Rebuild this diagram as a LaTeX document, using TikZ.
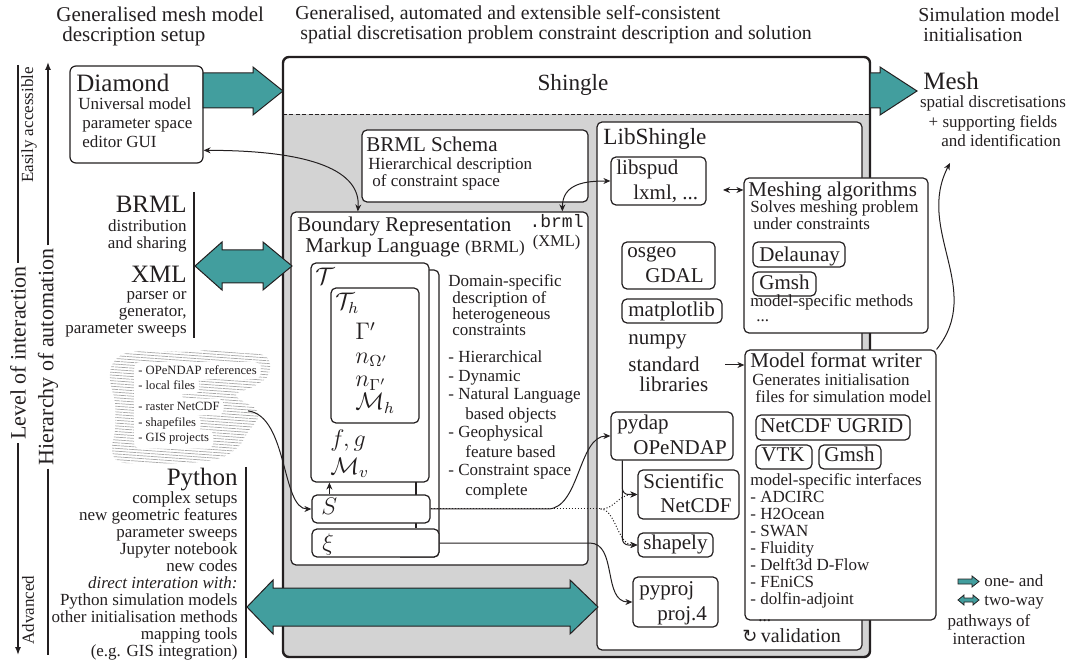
\documentclass[tikz,border=0pt]{standalone}
\usepackage{fontspec}
\setmainfont{Liberation Serif}
\setmonofont{Liberation Mono}
\newfontfamily\dejavu{DejaVu Sans}
\usepackage{amsmath}
\usetikzlibrary{arrows.meta,calc,fit,patterns.meta}

\definecolor{shgray}{RGB}{211,211,211}
\definecolor{pathteal}{RGB}{66,158,158}
\definecolor{ink}{RGB}{35,31,32}
\newcommand\fs[2]{\fontsize{#1}{#2}\selectfont}

% base anchors of several-line texts sit on the last line
\tikzset{
  box/.style={draw=ink, line width=0.6pt, rounded corners=2.5pt, fill=white, inner sep=0pt},
  txt/.style={inner sep=0pt, anchor=base west, align=left, text=ink},
  rtxt/.style={inner sep=0pt, anchor=base east, align=right, text=ink},
  link/.style={draw=ink, line width=0.5pt, >={Stealth[length=3.5pt,width=3pt]}},
  pathway/.style={draw=ink, line width=0.5pt, fill=pathteal, line join=miter},
  rule/.style={draw=ink, line width=0.7pt},
}

\begin{document}
\begin{tikzpicture}[x=0.5pt,y=-0.5pt]
\useasboundingbox (0,0) rectangle (1071,662);

% headings
\node[txt,font=\fs{10.5}{10}] (headL) at (56,42) {Generalised mesh model\\\hspace{3pt}description setup};
\node[txt,font=\fs{9.9}{10}] (headM) at (295,40) {Generalised, automated and extensible self-consistent\\\hspace{2.5pt}spatial discretisation problem constraint description and solution};
\node[txt,font=\fs{9.9}{10}] (headR) at (918,42) {Simulation model\\\hspace{2.5pt}initialisation};

% Shingle frame
\begin{scope}
  \clip[rounded corners=3pt] (283,57) rectangle (870,657);
  \fill[shgray] (283,114) rectangle (870,657);
\end{scope}
\draw[ink, line width=0.4pt, dash pattern=on 2pt off 1.2pt] (283,114) -- (870,114);
\node[draw=ink, line width=1.2pt, rounded corners=3pt, inner sep=0pt, fit={(283,57) (870,657)}] (shingle) {};
\node[inner sep=0pt, anchor=base, text=ink, font=\fs{11.6}{12}] (shingleT) at (573,91) {Shingle};

% LibShingle
\node[box, fit={(597,122) (862,650)}] (libshingle) {};
\node[txt,font=\fs{11.6}{12}] (libT) at (603,145) {LibShingle};
\node[box, fit={(611,157) (706,205)}] (libspud) {};
\node[txt,font=\fs{10.5}{12.5}] (libspudT) at (616,200) {libspud\\\hspace{8.5pt}lxml, ...};
\node[box, fit={(622,242) (715,289)}] (osgeo) {};
\node[txt,font=\fs{10.5}{12.5}] (osgeoT) at (627,283) {osgeo\\\hspace{9pt}GDAL};
\node[box, fit={(622,299) (722,323)}] (mpl) {};
\node[txt,font=\fs{10.5}{12.5}] (mplT) at (628,317) {matplotlib};
\node[txt,font=\fs{10.5}{12.5}] (numpy) at (628,345) {numpy};
\node[txt,font=\fs{10.5}{10}] (stdlib) at (628,392) {standard\\\hspace{5.5pt}libraries};
\node[box, fit={(611,412) (733,460)}] (pydap) {};
\node[txt,font=\fs{10.5}{12.5}] (pydapT) at (617,455) {pydap\\\hspace{8pt}OPeNDAP};
\node[box, fit={(638,470) (739,519)}] (scinet) {};
\node[txt,font=\fs{10.5}{12.5}] (scinetT) at (643,513) {Scientific\\\hspace{8.5pt}NetCDF};
\node[box, fit={(638,533) (713,557)}] (shapely) {};
\node[txt,font=\fs{10.5}{12.5}] (shapelyT) at (643,549) {shapely};
\node[box, fit={(633,577) (718,627)}] (pyproj) {};
\node[txt,font=\fs{10.5}{12.5}] (pyprojT) at (639,620) {pyproj\\\hspace{9pt}proj.4};
\node[txt,font=\fs{10}{12}] (valid) at (742,642) {{\dejavu\fs{9}{9}↻}\,validation};

% BRML schema and document
\node[box, fit={(362,130) (588,202)}] (schema) {};
\node[txt,font=\fs{10.5}{12}] (schemaT) at (366,152) {BRML Schema};
\node[txt,font=\fs{8.5}{8.5}] (schemaS) at (368,187) {Hierarchical description\\\hspace{2pt}of constraint space};
\node[box, fit={(291,212) (588,565)}] (brml) {};
\node[txt,font=\fs{10.5}{10.5}] (brmlT) at (297,253) {Boundary Representation\\\hspace{4pt}Markup Language {\fs{8.5}{10.5}(BRML)}};
\node[inner sep=0pt, anchor=base east, align=center, text=ink, font=\fs{9}{9.5}] (brmlExt) at (584,247) {\texttt{.brml}\\{\fs{8.2}{9.5}(XML)}};

% stacked constraint tree
\draw[ink, line width=0.6pt, rounded corners=2.5pt] (400,270) -- (439,270) -- (439,557) -- (400,557);
\draw[ink, line width=0.6pt] (416,470) -- (416,528);
\node[box, fit={(311,263) (429,482)}] (tbox) {};
\node[txt,font=\fs{11.5}{12}] (tT) at (315,285) {$\mathcal{T}$};
\node[box, fit={(331,288) (419,423)}] (thbox) {};
\node[txt,font=\fs{11.5}{12}] (thT) at (335,310) {$\mathcal{T}_h$};
\node[txt,font=\fs{11.5}{11.7}] (thVars) at (355,410) {$\Gamma'$\\$n_{\Omega'}$\\$n_{\Gamma'}$\\$\mathcal{M}_h$};
\node[txt,font=\fs{11.5}{13.5}] (tVars) at (330,474) {$f,g$\\$\mathcal{M}_v$};
\node[box, fit={(312,495) (430,523)}] (sbox) {};
\node[txt,font=\fs{11.5}{12}] (sT) at (321,515) {$S$};
\node[box, fit={(312,529) (439,557)}] (xibox) {};
\node[txt,font=\fs{11.5}{12}] (xiT) at (322,550) {$\xi$};

\node[txt,font=\fs{8.5}{8.2}] (domain) at (448,336) {Domain-specific\\\hspace{2pt}description of\\\hspace{2pt}heterogeneous\\\hspace{2pt}constraints};
\node[txt,font=\fs{8.5}{9.5}] (features) at (448,495) {- Hierarchical\\- Dynamic\\- Natural Language\\\hspace{8.5pt}based objects\\- Geophysical\\\hspace{8.5pt}feature based\\- Constraint space\\\hspace{8.5pt}complete};

% meshing and writer
\node[box, fit={(744,178) (928,333)}] (meshalg) {};
\node[txt,font=\fs{10.5}{12}] (meshalgT) at (748,197) {Meshing algorithms};
\node[txt,font=\fs{8.5}{8.5}] (meshalgS) at (750,230) {Solves meshing problem\\\hspace{1.5pt}under constraints};
\node[box, fit={(753,242) (845,267)}] (delaunay) {};
\node[txt,font=\fs{10.5}{12}] (delaunayT) at (759,262) {Delaunay};
\node[box, fit={(753,272) (816,296)}] (gmshA) {};
\node[txt,font=\fs{10.5}{12}] (gmshAT) at (759,290) {Gmsh};
\node[txt,font=\fs{8.5}{7.5}] (meshalgM) at (750,322) {model-specific methods\\\hspace{3pt}...};

\node[box, fit={(745,350) (936,620)}] (writer) {};
\node[txt,font=\fs{10.5}{12}] (writerT) at (750,368) {Model format writer};
\node[txt,font=\fs{8.5}{8.5}] (writerS) at (752,403) {Generates initialisation\\\hspace{1.5pt}files for simulation model};
\node[box, fit={(756,415) (910,440)}] (ugrid) {};
\node[txt,font=\fs{10.5}{12}] (ugridT) at (760,433) {NetCDF UGRID};
\node[box, fit={(756,445) (812,469)}] (vtk) {};
\node[txt,font=\fs{10.5}{12}] (vtkT) at (761,462) {VTK};
\node[box, fit={(819,445) (881,469)}] (gmshB) {};
\node[txt,font=\fs{10.5}{12}] (gmshBT) at (824,462) {Gmsh};
\node[txt,font=\fs{8.5}{8.5}] (writerL) at (750,621) {model-specific interfaces\\- ADCIRC\\- H2Ocean\\- SWAN\\- Fluidity\\- Delft3d D-Flow\\- FEniCS\\- dolfin-adjoint\\\hspace{4pt}...};

% Diamond
\node[box, rounded corners=3pt, fit={(70,66) (203,163)}] (dia) {};
\node[txt,font=\fs{12.5}{13}] (diaT) at (76,92) {Diamond};
\node[txt,font=\fs{8.5}{9.5}] (diaS) at (78,148) {Universal model\\\hspace{2pt}parameter space\\\hspace{2pt}editor GUI};

% Mesh output
\node[txt,font=\fs{12.5}{13}] (meshOut) at (923,90) {Mesh};
\node[inner sep=0pt, anchor=base, align=center, text=ink, font=\fs{8.5}{9.8}] (meshOutS) at (993,147) {spatial discretisations\\+ supporting fields\\\hspace{8pt}and identification};

% BRML / XML access
\node[rtxt,font=\fs{12.5}{13}] (brmlA) at (187,213) {BRML};
\node[rtxt,font=\fs{8.5}{8.7}] (brmlAS) at (187,249) {distribution\\and sharing};
\node[rtxt,font=\fs{12.5}{13}] (xmlA) at (187,283) {XML};
\node[rtxt,font=\fs{8.5}{8.5}] (xmlAS) at (187,334) {parser or\\generator,\\parameter sweeps};
\draw[rule] (194,192) -- (194,338);

% Python access
\node[rtxt,font=\fs{12.5}{13}] (pyA) at (238,486) {Python};
\node[rtxt,font=\fs{8.5}{8.5}] (pyAS) at (238,656) {complex setups\\new geometric features\\parameter sweeps\\Jupyter notebook\\new codes\\\textit{direct interation with:}\hspace{15.5pt}\\Python simulation models\\other initialisation methods\\mapping tools\\(e.g. GIS integration)};
\draw[rule] (246,467) -- (246,658);

% data sources cloud
\fill[pattern={Lines[angle=-4,distance=1.4pt,line width=0.35pt]}, pattern color=gray!70]
  plot[smooth cycle, tension=0.6] coordinates {(113,363) (127,353) (157,351) (187,352) (213,350) (240,353) (263,355) (270,364) (267,377) (253,387) (236,394) (244,402) (255,408) (258,418) (248,432) (238,447) (220,458) (187,463) (150,463) (120,462) (112,450) (115,430) (115,403) (110,380)};
\fill[white, rounded corners=4pt] (134,363) rectangle (182,447);
\foreach \i/\y/\lbl in {1/375/OPeNDAP references, 2/390/local files, 3/411/raster NetCDF, 4/427/shapefiles, 5/442/GIS projects}
  \node[txt, font=\fs{6.3}{7.5}, fill=white, rounded corners=3pt, inner xsep=2pt, inner ysep=2pt] (cl\i) at (134,\y) {- \lbl};

% axes
\node[rotate=90, inner sep=1.5pt, text=ink, font=\fs{11}{12}] (levint) at (18,353) {Level of interaction};
\coordinate (levtop) at (18,65);
\coordinate (levbot) at (18,655);
\draw[rule] (levtop) -- (levint.east);
\draw[rule,-{Latex[length=4pt,width=3pt]}] (levint.west) -- (levbot);
\node[rotate=90, inner sep=1.5pt, text=ink, font=\fs{11}{12}] (hier) at (48,357) {Hierarchy of automation};
\coordinate (hiertop) at (48,62);
\coordinate (hierbot) at (48,655);
\draw[rule,-{Latex[length=4pt,width=3pt]}] (hier.east) -- (hiertop);
\draw[rule] (hier.west) -- (hierbot);
\node[rotate=90, inner sep=0pt, text=ink, font=\fs{8.5}{9}] (easy) at (29,125) {Easily accessible};
\node[rotate=90, inner sep=0pt, text=ink, font=\fs{8.5}{9}] (adv) at (28,610) {Advanced};

% pathways
\draw[pathway] (203,73) -- (253,73) -- (253,67) -- (283,91) -- (253,115) -- (253,108) -- (203,108) -- cycle;
\draw[pathway] (870,73) -- (880,73) -- (880,67) -- (917,91) -- (880,115) -- (880,108) -- (870,108) -- cycle;
\draw[pathway] (195,266) -- (222,242) -- (222,250) -- (263,250) -- (263,242) -- (292,266) -- (263,290) -- (263,283) -- (222,283) -- (222,290) -- cycle;
\draw[pathway] (247,607) -- (273,580) -- (273,588) -- (570,588) -- (570,580) -- (598,607) -- (570,634) -- (570,626) -- (273,626) -- (273,634) -- cycle;

% connectors
\draw[link,<->] ($(dia.north east)!0.865!(dia.south east)$) .. controls +(110,0) and +(3,-40) .. ($(brml.north west)!0.226!(brml.north east)$);
\draw[link,<->] ($(brml.north west)!0.912!(brml.north east)$) .. controls +(0,-28) and +(-25,0) .. (libspud.west);
\coordinate (libout) at (723,190);
\draw[link,<->] (libout) -- (libout -| meshalg.west);
\coordinate (stdout) at (725,365);
\draw[link,->] (stdout) -- (stdout -| writer.west);
\draw[link,->] ([xshift=12pt,yshift=-2pt]cl3.east) .. controls +(40,5) and +(-30,0) .. (sbox.west);
\coordinate (sup) at ($(sbox.north west)+(18,0)$);
\draw[link,->] (sup) -- (sup |- tbox.south);
\draw[link,densely dotted] (sbox.east) -- ++(170,0) coordinate (fork);
\draw[link,densely dotted,->] (fork) .. controls +(15,0) and +(-20,0) .. (scinet.west);
\draw[link,densely dotted,->] (fork) .. controls +(15,0) and +(-20,0) .. (shapely.west);
\draw[link,->] (sbox.east) -- ++(117,0) .. controls +(32,0) and +(-32,0) .. (pydap.west);
\coordinate (pdown) at ($(pydap.south west)+(12,0)$);
\draw[link,->,rounded corners=3pt] (pdown) |- (scinet.west);
\draw[link,->,rounded corners=3pt] (pdown) |- (shapely.west);
\draw[link,->] (xibox.east) -- ++(150,0) .. controls +(28,0) and +(-30,0) .. (pyproj.west);
\coordinate (meshin) at (950,163);
\draw[link,->] (writer.north east) .. controls +(48,-60) and +(-35,67) .. (meshin);

% legend
\draw[pathway, line width=0.4pt] (958,579) -- (972,579) -- (972,576) -- (979,581.5) -- (972,587) -- (972,584) -- (958,584) -- cycle;
\draw[pathway, line width=0.4pt] (958,600) -- (964,595) -- (964,598) -- (973,598) -- (973,595) -- (979,600) -- (973,605) -- (973,602) -- (964,602) -- (964,605) -- cycle;
\node[txt,font=\fs{8.5}{9}] (legOne) at (984,586) {one- and};
\node[txt,font=\fs{8.5}{9}] (legTwo) at (984,605) {two-way};
\node[inner sep=0pt, anchor=base, align=center, text=ink, font=\fs{8.5}{9}] (legPath) at (989,644) {pathways of\\interaction};
\end{tikzpicture}
\end{document}
